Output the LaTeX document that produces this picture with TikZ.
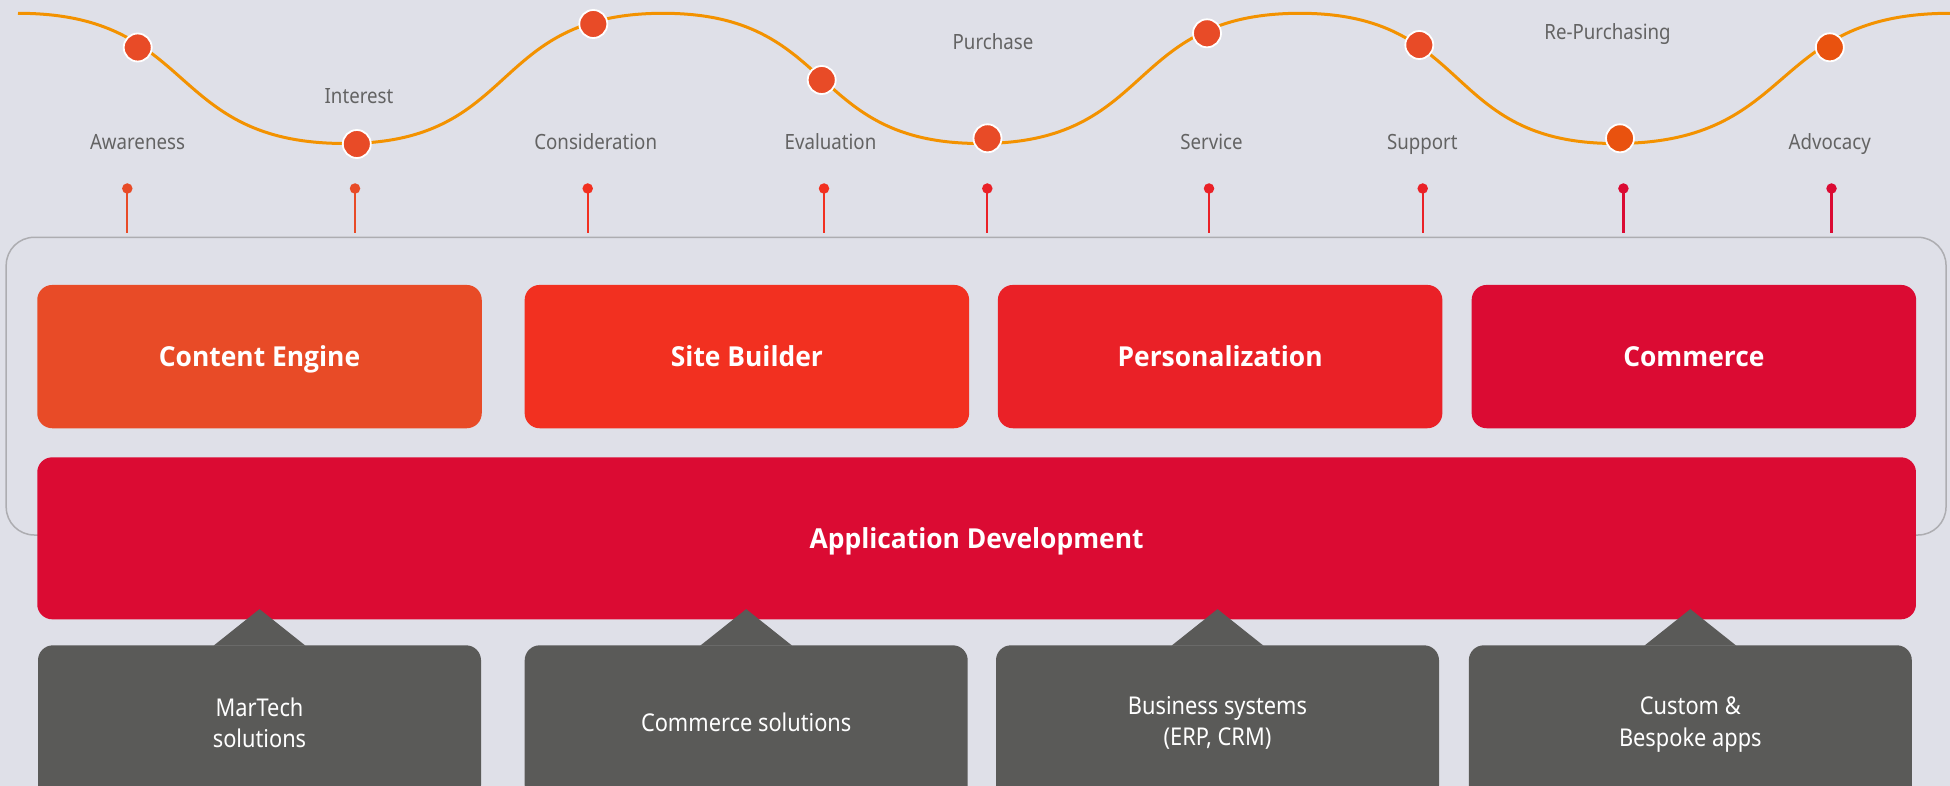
\documentclass[tikz,border=0pt]{standalone}
\usepackage{fontspec}
\setmainfont{Noto Sans}
\newfontfamily\lblfont[FakeStretch=0.89]{Noto Sans}
\newfontfamily\boxfont[FakeStretch=0.96]{Open Sans}
\usetikzlibrary{calc}
\definecolor{bgc}{HTML}{DFE0E8}
\definecolor{cec}{HTML}{E84B27}
\definecolor{sbc}{HTML}{F23020}
\definecolor{pec}{HTML}{EA2127}
\definecolor{coc}{HTML}{DB0B33}
\definecolor{grayc}{HTML}{5A5A58}
\definecolor{lblc}{HTML}{636363}
\definecolor{wavec}{HTML}{F39200}
\definecolor{dotc}{HTML}{E84B27}
\definecolor{dotd}{HTML}{E9520F}
\definecolor{outc}{HTML}{ADADB1}
\begin{document}
\begin{tikzpicture}[x=1pt,y=-1pt,
  lbl/.style={font=\lblfont\fontsize{21}{25}\selectfont, text=lblc, inner sep=0pt, text height=15pt, text depth=0pt},
  topbox/.style={rounded corners=15pt, minimum width=444.5pt, minimum height=143.3pt, inner sep=0pt, text=white, font=\boxfont\bfseries\fontsize{27.5}{32}\selectfont, text height=19.6pt, text depth=0pt},
  graybox/.style={fill=grayc, rounded corners=15pt, minimum width=443pt, minimum height=155pt, inner sep=0pt},
  graytext/.style={text=white, align=center, inner sep=0pt, font=\lblfont\fontsize{24.5}{31.7}\selectfont},
  wavedot/.style={circle, draw=white, line width=1.8pt, minimum size=28pt, inner sep=0pt},
  pinhead/.style={circle, minimum size=10.5pt, inner sep=0pt},
  pinline/.style={line width=2.2pt},
  wave/.style={draw=wavec, line width=3pt},
  tri/.style={fill=grayc},
]
% background
\fill[bgc] (0,0) rectangle (1950,786);
\useasboundingbox (0,0) rectangle (1950,786);
\clip (0,0) rectangle (1950,786);

% outer frame
\draw[outc, line width=1.5pt, rounded corners=28pt] (6.2,237.3) rectangle (1946,535);

% top boxes
\node[topbox, fill=cec] (ce) at (259.5,356.6) {Content Engine};
\node[topbox, fill=sbc] (sb) at (746.9,356.6) {Site Builder};
\node[topbox, fill=pec] (pe) at (1220.1,356.6) {Personalization};
\node[topbox, fill=coc] (co) at (1693.9,356.6) {Commerce};

% application development
\node[topbox, fill=coc, minimum width=1878.7pt, minimum height=162pt] (ad) at (976.6,538.3) {Application Development};

% gray boxes
\node[graybox] (g1) at (259.5,722.8) {};
\node[graybox] (g2) at (746.2,722.8) {};
\node[graybox] (g3) at (1217.5,722.8) {};
\node[graybox] (g4) at (1690.3,722.8) {};
\foreach \g in {g1,g2,g3,g4}{
  \fill[tri] ($(\g.north)+(-46,0.6)$) -- ($(\g.north)+(0,-36)$) -- ($(\g.north)+(46,0.6)$) -- cycle;
}
\node[graytext] (t1) at (g1.center) {MarTech\\solutions};
\node[graytext, text height=17.5pt, text depth=0pt] (t2) at (g2.center) {Commerce solutions};
\node[graytext] (t3) at (g3.center) {Business systems\\(ERP, CRM)};
\node[graytext] (t4) at ($(g4.center)+(0,2)$) {Custom \&\\Bespoke apps};

% wave
\draw[wave] (18,13.3) .. controls (198,13.3) and (165,143.5) .. (345,143.5)
  .. controls (520,143.5) and (488,13.3) .. (663,13.3)
  .. controls (837,13.3) and (806,143.5) .. (980,143.5)
  .. controls (1156,143.5) and (1124,13.3) .. (1300,13.3)
  .. controls (1473,13.3) and (1442,143.5) .. (1615,143.5)
  .. controls (1799,143.5) and (1766,13.3) .. (1950,13.3);

% dots on wave
\node[wavedot, fill=dotc] (d1) at (137.7,47.5) {};
\node[wavedot, fill=dotc] (d2) at (356.8,144) {};
\node[wavedot, fill=dotc] (d3) at (593.3,24) {};
\node[wavedot, fill=dotc] (d4) at (821.7,80) {};
\node[wavedot, fill=dotc] (d5) at (987.5,138.3) {};
\node[wavedot, fill=dotc] (d6) at (1207,33.3) {};
\node[wavedot, fill=dotc] (d7) at (1419.3,45) {};
\node[wavedot, fill=dotd] (d8) at (1620,138.3) {};
\node[wavedot, fill=dotd] (d9) at (1829.8,47.3) {};

% labels
\node[lbl] (l1) at (137.5,141.7) {Awareness};
\node[lbl] (l2) at (359,95.8) {Interest};
\node[lbl] (l3) at (595.7,141.7) {Consideration};
\node[lbl] (l4) at (830.5,141.7) {Evaluation};
\node[lbl] (l5) at (993,42.5) {Purchase};
\node[lbl] (l6) at (1211.5,141.7) {Service};
\node[lbl] (l7) at (1422.3,141.7) {Support};
\node[lbl] (l8) at (1607.5,32.5) {Re-Purchasing};
\node[lbl] (l9) at (1829.8,141.7) {Advocacy};

% pins
\foreach \i/\x/\c in {1/127.3/cec,2/355/cec,3/587.7/sbc,4/824/sbc,5/987.3/pec,6/1209/pec,7/1422.7/pec,8/1623.4/coc,9/1831.5/coc}{
  \node[pinhead, fill=\c] (p\i) at (\x,188.5) {};
  \coordinate (pb\i) at (\x,233.5);
  \draw[pinline, \c] (p\i.center) -- (pb\i);
}
\end{tikzpicture}
\end{document}
